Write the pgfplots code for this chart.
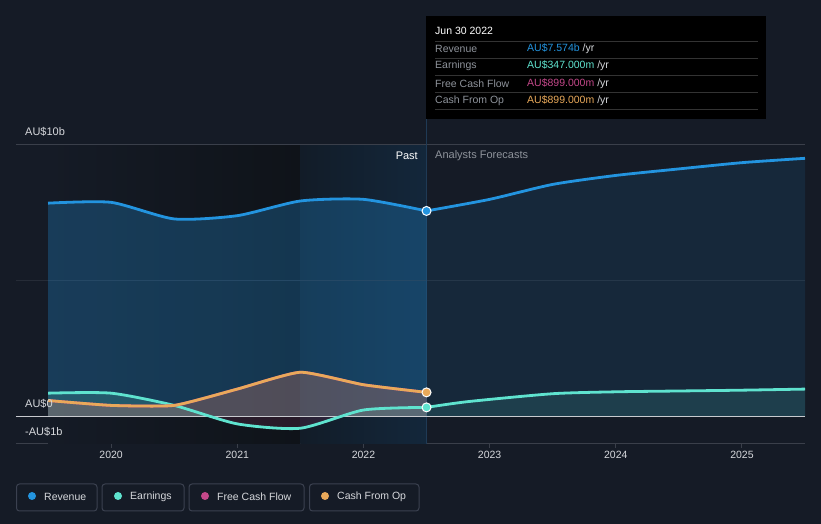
\documentclass[border=0pt]{standalone}
\usepackage{pgfplots}
\pgfplotsset{compat=1.18}
\usepackage{pgfplotstable}
\usepackage{fontspec}
\setmainfont{Liberation Sans}

\definecolor{bg}{HTML}{151B26}
\definecolor{darkbg}{HTML}{0F1319}
\definecolor{hlA}{HTML}{121C28}
\definecolor{hlB}{HTML}{13273B}
\definecolor{vline}{HTML}{1F3A55}
\definecolor{sepc}{HTML}{333333}
\definecolor{gridc}{HTML}{3A3F4A}
\definecolor{gridm}{HTML}{262C37}
\definecolor{zeroc}{HTML}{C8CACF}
\definecolor{revc}{HTML}{2394DF}
\definecolor{earnc}{HTML}{5FE3CF}
\definecolor{fcfc}{HTML}{C4488A}
\definecolor{cfoc}{HTML}{E9A95A}
\definecolor{tickc}{HTML}{D6D8DC}
\definecolor{greyc}{HTML}{8E939B}
\definecolor{boxc}{HTML}{3B4150}

% revenue, AU$ billions
\pgfplotstableread{
x y
2019.5 7.86
2020.0 7.89
2020.5 7.28
2021.0 7.40
2021.5 7.94
2022.0 8.00
2022.5 7.574
}\revpast
\pgfplotstableread{
x y
2022.5 7.574
2023.0 8.00
2023.5 8.55
2024.0 8.88
2024.5 9.12
2025.0 9.35
2025.5 9.51
}\revfut

% earnings
\pgfplotstableread{
x y
2019.5 0.87
2020.0 0.87
2020.5 0.42
2021.0 -0.26
2021.5 -0.42
2022.0 0.25
2022.5 0.347
}\earnpast
\pgfplotstableread{
x y
2022.5 0.347
2022.83 0.56
2023.5 0.85
2024.0 0.92
2024.5 0.95
2025.0 0.98
2025.5 1.02
}\earnfut

% free cash flow / cash from op
\pgfplotstableread{
x y
2019.5 0.60
2020.0 0.42
2020.5 0.42
2021.0 1.02
2021.5 1.64
2022.0 1.18
2022.5 0.899
}\fcf
\pgfplotstableread{
x y
2019.5 0.60
2020.0 0.42
2020.5 0.42
2021.0 1.02
2021.5 1.64
2022.0 1.18
2022.5 0.899
}\cfo

\begin{document}
\begin{tikzpicture}[x=1pt,y=1pt]
\fill[bg] (0,0) rectangle (821,524);
\useasboundingbox (0,0) rectangle (821,524);

\begin{axis}[
    at={(16pt,80pt)}, anchor=south west,
    scale only axis, width=789pt, height=299pt,
    xmin=2019.246, xmax=2025.5,
    ymin=-1, ymax=10,
    clip=false,
    axis x line*=bottom,
    axis y line=none,
    x axis line style={draw=gridc, line width=1pt},
    xtick={2020,2021,2022,2023,2024,2025},
    tick align=outside,
    major tick length=4pt,
    tick style={draw=gridc, line width=1pt},
    xticklabel style={font=\fontsize{10.5}{12}\selectfont, text=tickc},
    /pgf/number format/1000 sep={},
    /pgf/number format/assume math mode=true,
]
% background regions
\shade[left color=bg, right color=darkbg] (axis cs:2019.5,-1) rectangle (axis cs:2021.5,10);
\shade[left color=hlA, right color=hlB] (axis cs:2021.5,-1) rectangle (axis cs:2022.5,10);
\draw[gridc, line width=1pt] (axis cs:2019.246,10) -- (axis cs:2025.5,10);
\draw[gridm, line width=1pt] (axis cs:2019.246,5) -- (axis cs:2025.5,5);
\draw[vline, line width=1pt] (axis cs:2022.5,-1) -- (axis cs:2022.5,11);

% fills
\addplot[smooth, tension=0.4, draw=none, fill=revc, fill opacity=0.28] table {\revpast} \closedcycle;
\addplot[smooth, tension=0.4, draw=none, fill=revc, fill opacity=0.11] table {\revfut} \closedcycle;
\begin{scope}
\clip (axis cs:2019,0) rectangle (axis cs:2026,5);
\addplot[smooth, tension=0.4, draw=none, fill=earnc, fill opacity=0.18] table {\earnpast} \closedcycle;
\end{scope}
\begin{scope}
\clip (axis cs:2019,0) rectangle (axis cs:2026,-1);
\addplot[smooth, tension=0.4, draw=none, fill=fcfc, fill opacity=0.14] table {\earnpast} \closedcycle;
\end{scope}
\addplot[smooth, tension=0.4, draw=none, fill=earnc, fill opacity=0.12] table {\earnfut} \closedcycle;
\addplot[smooth, tension=0.3, draw=none, fill=fcfc, fill opacity=0.15] table {\fcf} \closedcycle;
\addplot[smooth, tension=0.3, draw=none, fill=cfoc, fill opacity=0.18] table {\cfo} \closedcycle;

\draw[zeroc, line width=1pt] (axis cs:2019.246,0) -- (axis cs:2025.5,0);

% lines
\addplot[smooth, tension=0.4, revc, line width=2.8pt] table {\revpast};
\addplot[smooth, tension=0.4, revc, line width=2.8pt] table {\revfut};
\addplot[smooth, tension=0.4, earnc, line width=2.8pt] table {\earnpast};
\addplot[smooth, tension=0.4, earnc, line width=2.8pt] table {\earnfut};
\addplot[smooth, tension=0.3, fcfc, line width=2.8pt] table {\fcf};
\addplot[smooth, tension=0.3, cfoc, line width=2.8pt] table {\cfo};

% markers at Jun 30 2022
\addplot[only marks, mark=*, mark size=4.5pt, mark options={fill=revc, draw=white, line width=1pt}] coordinates {(2022.5,7.574)};
\addplot[only marks, mark=*, mark size=4.5pt, mark options={fill=earnc, draw=white, line width=1pt}] coordinates {(2022.5,0.347)};
\addplot[only marks, mark=*, mark size=4.5pt, mark options={fill=cfoc, draw=white, line width=1pt}] coordinates {(2022.5,0.899)};
\end{axis}

% y labels
\begin{scope}[font=\fontsize{11}{13}\selectfont, text=tickc]
\node[anchor=west, inner sep=0] at (25,392) {AU\$10b};
\node[anchor=west, inner sep=0] at (25,120) {AU\$0};
\node[anchor=west, inner sep=0] at (25,92) {-AU\$1b};
\node[anchor=east, inner sep=0, text=white] at (418,368) {Past};
\node[anchor=west, inner sep=0, text=greyc] at (435,368) {Analysts Forecasts};
\end{scope}

% tooltip
\fill[black] (426,405) rectangle (766,508);
\begin{scope}[font=\fontsize{10.5}{12}\selectfont]
\node[anchor=west, inner sep=0, text=white] at (435,493) {Jun 30 2022};
\foreach \yy in {483,466,449,432,415} \draw[sepc] (435,\yy) -- (758,\yy);
\node[anchor=west, inner sep=0, text=greyc] at (435,475) {Revenue};
\node[anchor=west, inner sep=0, text=greyc] at (435,458) {Earnings};
\node[anchor=west, inner sep=0, text=greyc] at (435,440) {Free Cash Flow};
\node[anchor=west, inner sep=0, text=greyc] at (435,423) {Cash From Op};
\node[anchor=west, inner sep=0] at (527,475) {\textcolor{revc}{AU\$7.574b} \textcolor{tickc}{/yr}};
\node[anchor=west, inner sep=0] at (527,458) {\textcolor{earnc}{AU\$347.000m} \textcolor{tickc}{/yr}};
\node[anchor=west, inner sep=0] at (527,440) {\textcolor{fcfc}{AU\$899.000m} \textcolor{tickc}{/yr}};
\node[anchor=west, inner sep=0] at (527,423) {\textcolor{cfoc}{AU\$899.000m} \textcolor{tickc}{/yr}};
\end{scope}

% legend
\begin{scope}[font=\fontsize{10.5}{12}\selectfont]
\draw[boxc, rounded corners=3pt, line width=1pt] (16.5,13) rectangle (97,40);
\fill[revc] (32,28) circle (4pt);
\node[anchor=west, inner sep=0, text=tickc] at (44,27) {Revenue};
\draw[boxc, rounded corners=3pt, line width=1pt] (102,13) rectangle (184,40);
\fill[earnc] (118,28) circle (4pt);
\node[anchor=west, inner sep=0, text=tickc] at (130,27) {Earnings};
\draw[boxc, rounded corners=3pt, line width=1pt] (189,13) rectangle (304,40);
\fill[fcfc] (205,28) circle (4pt);
\node[anchor=west, inner sep=0, text=tickc] at (217,27) {Free Cash Flow};
\draw[boxc, rounded corners=3pt, line width=1pt] (309.5,13) rectangle (419,40);
\fill[cfoc] (325,28) circle (4pt);
\node[anchor=west, inner sep=0, text=tickc] at (337,27) {Cash From Op};
\end{scope}
\end{tikzpicture}
\end{document}
